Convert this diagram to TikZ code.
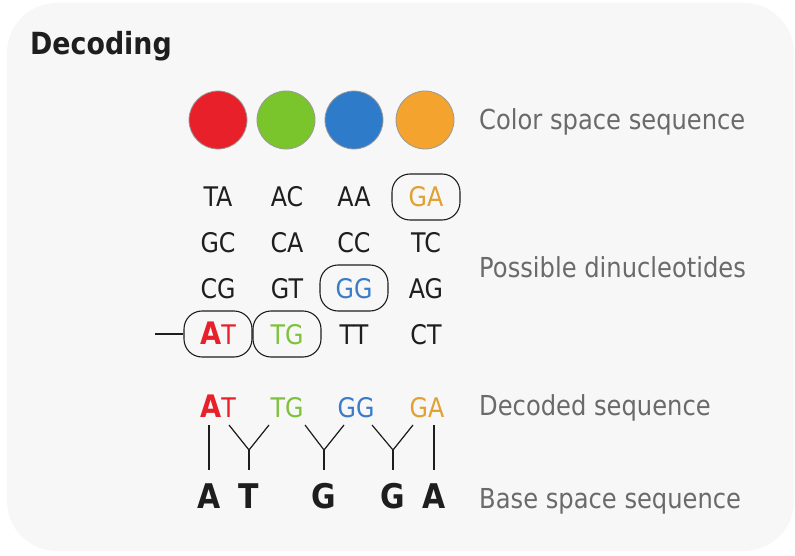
\documentclass[tikz,border=0pt]{standalone}
\usepackage{fontspec}
\setmainfont{DejaVu Sans}[FakeStretch=0.88]
\definecolor{panel}{HTML}{F7F7F7}
\definecolor{ink}{HTML}{1E1E1E}
\definecolor{caption}{HTML}{6A6A6A}
\definecolor{cred}{HTML}{E8202A}
\definecolor{cgreen}{HTML}{7BC52C}
\definecolor{cblue}{HTML}{2E7BCA}
\definecolor{corange}{HTML}{F4A42E}
\definecolor{tgreen}{HTML}{7DC23A}
\definecolor{tblue}{HTML}{3A7CC8}
\definecolor{torange}{HTML}{E2A030}

\begin{document}
\begin{tikzpicture}[x=1pt,y=-1pt]
 \tikzstyle{dot} = [circle,draw=gray!80,line width=0.8pt,minimum size=58pt,inner sep=0]
 \tikzstyle{dinuc} = [anchor=base,inner sep=0,text height=20pt,text depth=0pt,text=ink,font=\fontsize{27}{27}\selectfont]
 \tikzstyle{picked} = [dinuc,draw=ink,line width=1.1pt,rounded corners=18pt,minimum width=68pt,inner ysep=13pt]
 \tikzstyle{base} = [anchor=base,inner sep=0,text height=25pt,text depth=0pt,outer ysep=13pt,text=ink,font=\bfseries\fontsize{34}{34}\selectfont]
 \tikzstyle{caption} = [anchor=base west,inner sep=0,text=caption,font=\fontsize{27.5}{27.5}\selectfont]
 \tikzstyle{link} = [draw=ink,line width=1.2pt]
 \newcommand{\bigA}{{\bfseries\fontsize{31}{31}\selectfont A}}

 \useasboundingbox (0,0) rectangle (795,556);
 \fill[white] (0,0) rectangle (795,556);
 \fill[panel,rounded corners=50pt] (7,3) rectangle (794,551);

 \node[anchor=base west,inner sep=0,text=ink,font=\bfseries\fontsize{30.5}{30.5}\selectfont] (title) at (30,55) {Decoding};

 % Colour calls
 \node[dot,fill=cred] (c1) at (218,120) {};
 \node[dot,fill=cgreen] (c2) at (286,120) {};
 \node[dot,fill=cblue] (c3) at (354,120) {};
 \node[dot,fill=corange] (c4) at (425,120) {};

 % Candidate pairs, one column per colour
 \foreach \col/\x in {1/218,2/287,3/354,4/426}{
  \foreach \row/\y in {1/207,2/252.5,3/298,4/344}{
   \coordinate (g-\col-\row) at (\x,\y);
  }
 }
 \node[dinuc] (p11) at (g-1-1) {TA};
 \node[dinuc] (p12) at (g-1-2) {GC};
 \node[dinuc] (p13) at (g-1-3) {CG};
 \node[picked] (p14) at (g-1-4) {\textcolor{cred}{\bigA T}};
 \node[dinuc] (p21) at (g-2-1) {AC};
 \node[dinuc] (p22) at (g-2-2) {CA};
 \node[dinuc] (p23) at (g-2-3) {GT};
 \node[picked] (p24) at (g-2-4) {\textcolor{tgreen}{TG}};
 \node[dinuc] (p31) at (g-3-1) {AA};
 \node[dinuc] (p32) at (g-3-2) {CC};
 \node[picked] (p33) at (g-3-3) {\textcolor{tblue}{GG}};
 \node[dinuc] (p34) at (g-3-4) {TT};
 \node[picked] (p41) at (g-4-1) {\textcolor{torange}{GA}};
 \node[dinuc] (p42) at (g-4-2) {TC};
 \node[dinuc] (p43) at (g-4-3) {AG};
 \node[dinuc] (p44) at (g-4-4) {CT};

 \coordinate (lead) at (155,334);
 \draw[link] (lead) -- (p14.west);

 % Decoded pairs
 \node[dinuc,text=cred] (d1) at (218,417) {\bigA T};
 \node[dinuc,text=tgreen] (d2) at (287,417) {TG};
 \node[dinuc,text=tblue] (d3) at (356,417) {GG};
 \node[dinuc,text=torange] (d4) at (427,417) {GA};

 % Bases
 \node[base] (b1) at (209,508) {A};
 \node[base] (b2) at (249,508) {T};
 \node[base] (b3) at (324,508) {G};
 \node[base] (b4) at (393,508) {G};
 \node[base] (b5) at (434,508) {A};

 % Forks between the two rows
 \coordinate (t1) at (209,425);
 \coordinate (t2) at (229,425);
 \coordinate (t3) at (269,425);
 \coordinate (t4) at (305,425);
 \coordinate (t5) at (344,425);
 \coordinate (t6) at (372,425);
 \coordinate (t7) at (413,425);
 \coordinate (t8) at (434,425);
 \coordinate (j1) at (249,450);
 \coordinate (j2) at (324,450);
 \coordinate (j3) at (393,450);

 \draw[link] (t1) -- (b1.north);
 \draw[link] (t2) -- (j1) -- (t3); \draw[link] (j1) -- (b2.north);
 \draw[link] (t4) -- (j2) -- (t5); \draw[link] (j2) -- (b3.north);
 \draw[link] (t6) -- (j3) -- (t7); \draw[link] (j3) -- (b4.north);
 \draw[link] (t8) -- (b5.north);

 % Row captions
 \node[caption] (l1) at (479,130) {Color space sequence};
 \node[caption] (l2) at (479,277) {Possible dinucleotides};
 \node[caption] (l3) at (479,415) {Decoded sequence};
 \node[caption] (l4) at (479,508) {Base space sequence};

\end{tikzpicture}
\end{document}
